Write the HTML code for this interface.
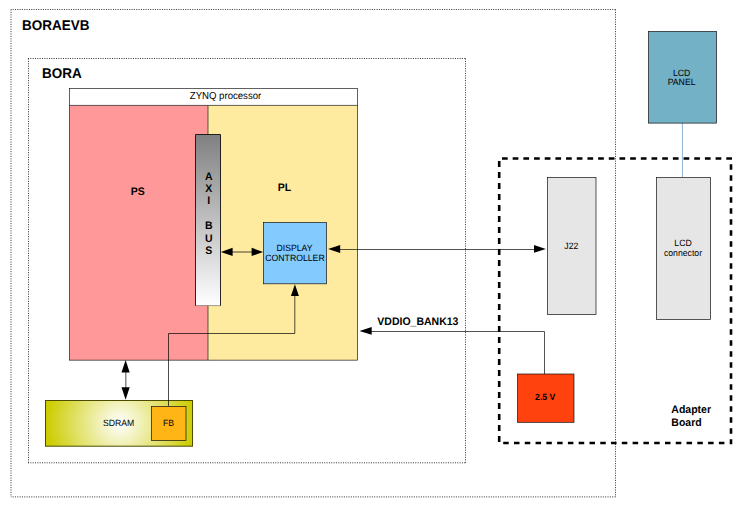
<!DOCTYPE html>
<html>
<head>
<meta charset="utf-8">
<title>BORAEVB LCD block diagram</title>
<style>
  html, body { margin: 0; padding: 0; background: #ffffff; }
  body { width: 750px; height: 530px; overflow: hidden; }
  svg { display: block; }
  text { font-family: "Liberation Sans", sans-serif; fill: #000000; text-rendering: geometricPrecision; }
  .b { font-weight: bold; }
  .t13 { font-size: 13.5px; }
  .t10 { font-size: 10.5px; }
  .t9 { font-size: 9.6px; }
  .t8 { font-size: 8.7px; }
  .m { text-anchor: middle; }
</style>
</head>
<body>
<svg width="750" height="530" viewBox="0 0 750 530">
  <defs>
    <linearGradient id="axi" x1="0" y1="0" x2="0" y2="1">
      <stop offset="0" stop-color="#808080"/>
      <stop offset="1" stop-color="#ffffff"/>
    </linearGradient>
    <radialGradient id="sdram" cx="120" cy="423.3" r="74" gradientUnits="userSpaceOnUse">
      <stop offset="0" stop-color="#ffffff"/>
      <stop offset="1" stop-color="#cccc00"/>
    </radialGradient>
  </defs>

  <rect x="0" y="0" width="750" height="530" fill="#ffffff"/>

  <!-- outer dotted boxes -->
  <g fill="none" stroke="#1c1c1c" stroke-width="0.9">
    <path d="M11,9.5H616" stroke-dasharray="1 1.333" stroke-dashoffset="0.73"/>
    <path d="M615.5,9.5V497" stroke-dasharray="1 1.4"/>
    <path d="M11,496.9H616" stroke-dasharray="1 1.333" stroke-dashoffset="0.73"/>
    <path d="M11,9.5V497" stroke-dasharray="1 1.4"/>
    <path d="M28,58.5H466" stroke-dasharray="1 1.333"/>
    <path d="M465.5,58.5V463" stroke-dasharray="1 1.4"/>
    <path d="M28,462.8H466" stroke-dasharray="1 1.333"/>
    <path d="M28.5,58.5V463" stroke-dasharray="1 1.4"/>
  </g>

  <text class="b t13" transform="translate(22,30) scale(1,1.045)">BORAEVB</text>
  <text class="b t13" transform="translate(42,77.8) scale(1,1.045)">BORA</text>

  <!-- ZYNQ processor -->
  <rect x="69.5" y="88.5" width="288" height="17" fill="#ffffff"/>
  <rect x="208" y="105.4" width="149.5" height="254.7" fill="#ffeba0"/>
  <rect x="69.5" y="105.4" width="138.5" height="254.7" fill="#ff9999"/>
  <g fill="none" stroke="#101010" stroke-width="0.66">
    <rect x="69.5" y="88.5" width="288" height="271.65"/>
    <line x1="69.5" y1="105.4" x2="357.5" y2="105.4"/>
    <line x1="208" y1="105.4" x2="208" y2="360.1"/>
  </g>
  <text class="t9 m" transform="translate(225.5,99.2) scale(1,1.045)">ZYNQ processor</text>
  <text class="b t10 m" transform="translate(137.8,194.6) scale(1,1.045)">PS</text>
  <text class="b t10 m" transform="translate(284.5,191.1) scale(1,1.045)">PL</text>

  <!-- AXI BUS -->
  <rect x="195.5" y="134.5" width="25" height="171.2" fill="url(#axi)"/>
  <path d="M195.5,305.7V134.5H220.5V305.7" fill="none" stroke="#101010" stroke-width="0.9"/>
  <line x1="195.5" y1="305.6" x2="220.5" y2="305.6" stroke="#101010" stroke-width="0.4"/>
  <text class="b t10 m" transform="translate(208.8,179.7) scale(1,1.045)">A</text>
  <text class="b t10 m" transform="translate(208.8,192.1) scale(1,1.045)">X</text>
  <text class="b t10 m" transform="translate(208.8,204.2) scale(1,1.045)">I</text>
  <text class="b t10 m" transform="translate(208.8,229.3) scale(1,1.045)">B</text>
  <text class="b t10 m" transform="translate(208.8,241.7) scale(1,1.045)">U</text>
  <text class="b t10 m" transform="translate(208.8,254.0) scale(1,1.045)">S</text>

  <!-- Display controller -->
  <rect x="263.5" y="222.5" width="63" height="61.3" fill="#83caff" stroke="#101010" stroke-width="0.7"/>
  <text class="t8 m" transform="translate(294.5,251.1) scale(1,1.045)">DISPLAY</text>
  <text class="t8 m" transform="translate(295,261.2) scale(1,1.045)">CONTROLLER</text>

  <!-- AXI <-> display controller -->
  <line x1="228" y1="252" x2="256" y2="252" stroke="#000" stroke-width="0.72"/>
  <polygon points="220.9,251.9 232.6,247.8 232.6,256" fill="#000"/>
  <polygon points="263.1,251.9 251.6,247.8 251.6,256" fill="#000"/>

  <!-- display controller <-> J22 -->
  <line x1="336" y1="249.5" x2="538" y2="249.5" stroke="#000" stroke-width="0.68"/>
  <polygon points="328.1,248.9 340.2,244.9 340.2,252.9" fill="#000"/>
  <polygon points="545.8,248.9 534,245 534,252.8" fill="#000"/>

  <!-- FB -> display controller arrow head -->
  <polygon points="294.9,284.2 290.9,296.1 298.9,296.1" fill="#000"/>

  <!-- PS <-> SDRAM -->
  <line x1="125.85" y1="368" x2="125.85" y2="392" stroke="#000" stroke-width="0.7"/>
  <polygon points="125.6,360.1 121.5,372.5 129.7,372.5" fill="#000"/>
  <polygon points="125.6,399.8 121.5,387.3 129.7,387.3" fill="#000"/>

  <!-- SDRAM -->
  <rect x="45.5" y="400.5" width="147" height="45.7" fill="url(#sdram)" stroke="#4c4c00" stroke-width="1"/>
  <text class="t8 m" transform="translate(118.6,426) scale(1,1.045)">SDRAM</text>
  <polyline points="168.5,406 168.5,333.5 294.8,333.5 294.8,292" fill="none" stroke="#000" stroke-width="0.7"/>
  <rect x="151.5" y="406.5" width="34.5" height="34" fill="#ffb515" stroke="#101010" stroke-width="0.7"/>
  <text class="t8 m" transform="translate(168.6,426) scale(1,1.045)">FB</text>

  <!-- VDDIO_BANK13 -->
  <polyline points="368,331.5 544.5,331.5 544.5,374" fill="none" stroke="#000" stroke-width="0.68"/>
  <polygon points="359.5,330.9 371.7,327.1 371.7,334.7" fill="#000"/>
  <text class="b t10" transform="translate(377.3,324.9) scale(1,1.045)">VDDIO_BANK13</text>

  <!-- Adapter board -->
  <g fill="none" stroke="#000" stroke-width="2.6">
    <line x1="502" y1="158.45" x2="732.4" y2="158.45" stroke-dasharray="5.7 4.98"/>
    <line x1="731" y1="164.3" x2="731" y2="444.2" stroke-dasharray="5.5 5.5"/>
    <line x1="503.2" y1="443" x2="724.4" y2="443" stroke-dasharray="5.5 5.285"/>
    <line x1="499.2" y1="161.1" x2="499.2" y2="441.9" stroke-dasharray="5.8 5.2"/>
  </g>
  <rect x="547.5" y="177.5" width="48.5" height="137" fill="#e6e6e6" stroke="#101010" stroke-width="0.7"/>
  <text class="t8 m" transform="translate(571.3,249) scale(1,1.045)">J22</text>
  <rect x="656.5" y="177.5" width="54" height="142" fill="#e6e6e6" stroke="#101010" stroke-width="0.7"/>
  <text class="t8 m" transform="translate(683,246.3) scale(1,1.045)">LCD</text>
  <text class="t8 m" transform="translate(683,255.7) scale(1,1.045)">connector</text>

  <!-- 2.5 V -->
  <rect x="517.5" y="374" width="56.5" height="48.3" fill="#ff420e" stroke="#101010" stroke-width="0.7"/>
  <text class="b t8 m" transform="translate(545.2,400.3) scale(1,1.045)">2.5 V</text>

  <text class="b t10" transform="translate(671.3,413) scale(1,1.045)">Adapter</text>
  <text class="b t10" transform="translate(671.3,425.7) scale(1,1.045)">Board</text>

  <!-- LCD panel -->
  <line x1="682.45" y1="123" x2="682.45" y2="177" stroke="#729fcf" stroke-width="0.8"/>
  <rect x="648.5" y="31.5" width="68" height="91.6" fill="#73b1c7" stroke="#101010" stroke-width="0.7"/>
  <text class="t8 m" transform="translate(681.6,75.6) scale(1,1.045)">LCD</text>
  <text class="t8 m" transform="translate(681.6,85) scale(1,1.045)">PANEL</text>
</svg>
</body>
</html>
